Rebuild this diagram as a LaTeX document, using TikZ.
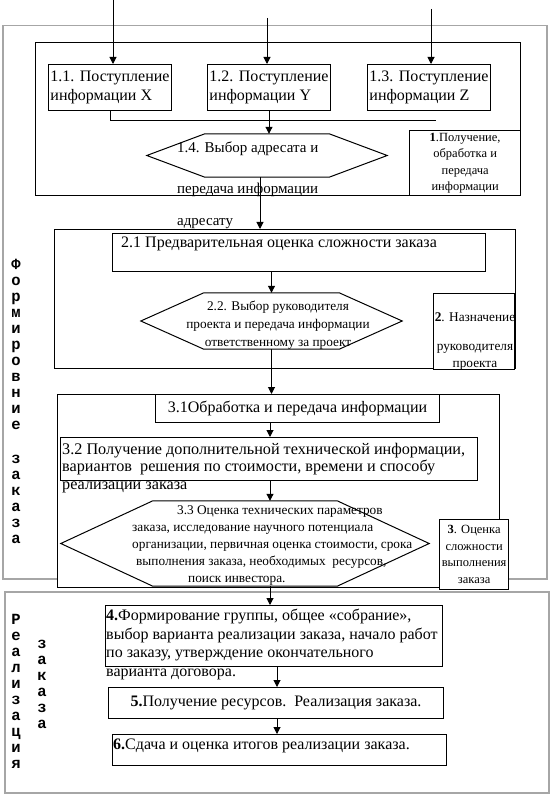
\documentclass[tikz,border=0pt]{standalone}
\usepackage{fontspec}
\setmainfont{Liberation Serif}
\newfontfamily\stackfont{Liberation Mono}
\usetikzlibrary{arrows.meta,positioning}

% hexagon round an (empty) named node: #1 node, #2 length of the tips
\newcommand{\hexa}[2]{\draw[line width=1pt,fill=white] (#1.west) -- ([xshift=#2]#1.north west) -- ([xshift=-#2]#1.north east) -- (#1.east) -- ([xshift=-#2]#1.south east) -- ([xshift=#2]#1.south west) -- cycle;}

\begin{document}
\begin{tikzpicture}[x=1pt,y=-1pt,
  frame/.style={draw=black!35,line width=1.5pt,inner sep=0pt,anchor=north west},
  grp/.style={draw,fill=white,line width=1pt,inner sep=0pt,anchor=north west},
  blk/.style={draw,fill=white,line width=1pt,inner sep=0pt,anchor=north west},
  side/.style={draw,fill=white,line width=1.3pt,inner sep=0pt,anchor=north west},
  sz/.style 2 args={minimum width=#1,minimum height=#2},
  big/.style={inner sep=0pt,font=\fontsize{16}{18.5}\selectfont},
  sml/.style={inner sep=0pt,font=\fontsize{13.3}{17}\selectfont},
  vert/.style={inner sep=0pt,align=center,font=\stackfont\bfseries\fontsize{15.5}{16}\selectfont},
  arr/.style={-{Triangle[length=7pt,width=7pt]},line width=1pt}]

\useasboundingbox (0,0) rectangle (551,794);

% outer frames
\node[frame,sz={544pt}{553pt}] (fr1) at (2,25) {};
\node[frame,sz={544pt}{201pt}] (fr2) at (4,591) {};

% captions on the left
\node[vert,anchor=north] (capA) at (16,259) {Ф\\о\\р\\м\\и\\р\\о\\в\\н\\и\\е\\[18pt]з\\а\\к\\а\\з\\а};
\node[vert,anchor=north] (capB) at (16,614) {Р\\е\\а\\л\\и\\з\\а\\ц\\и\\я};
\node[vert,anchor=north] (capC) at (42,640) {з\\а\\к\\а\\з\\а};

% stage 1
\node[grp,sz={485pt}{153pt}] (g1) at (35,42) {};
\node[blk,sz={123pt}{46pt},align=left,big] (b11) at (48,64) {1.1. Поступление\\информации X};
\node[blk,sz={123pt}{46pt},align=left,big] (b12) at (207,64) {1.2. Поступление\\информации Y};
\node[blk,sz={123pt}{46pt},align=left,big] (b13) at (367,64) {1.3. Поступление\\информации Z};
\coordinate (collEnd) at (436,121);
\draw[line width=1pt] (b11.south) |- (collEnd);
\node[sz={240pt}{43pt}] (h14) at (267,155.5) {};
\hexa{h14}{58pt}
\node[big,align=left,anchor=north west,font=\fontsize{15}{17}\selectfont] (t14) at (177,142) {1.4. Выбор адресата и\\[24pt]передача информации\\[15pt]адресату};
\node[side,sz={111pt}{65pt}] (s1) at (409,130) {};
\node[sml,align=center,font=\fontsize{12.5}{16.5}\selectfont] (s1t) at (s1.center) {\textbf{1}.Получение,\\обработка и\\передача\\информации};

% stage 2
\node[grp,sz={461pt}{139pt}] (g2) at (54,229) {};
\node[blk,sz={373pt}{38pt}] (b21) at (112,233) {};
\node[big,anchor=west] (t21) at (121,244) {2.1 Предварительная оценка сложности заказа};
\node[sz={261pt}{56pt}] (h22) at (271.5,321) {};
\hexa{h22}{63pt}
\node[sml,align=center,font=\fontsize{13.3}{18}\selectfont] (t22) at (278,325) {2.2. Выбор руководителя\\проекта и передача информации\\ответственному за проект};
\node[side,sz={81pt}{76pt}] (s2) at (433,293) {};
\node[sml,align=center,anchor=north] (s2t) at (475,312) {\textbf{2}. Назначение\\[12pt]руководителя\\проекта};

% stage 3
\node[grp,sz={442pt}{193pt}] (g3) at (57,394) {};
\node[blk,sz={284pt}{28pt},big] (b31) at (155,394) {3.1Обработка и передача информации};
\node[blk,sz={417pt}{43pt}] (b32) at (60,437) {};
\node[big,align=left,anchor=north west,font=\fontsize{16.2}{17.5}\selectfont] (t32) at (62,443) {3.2 Получение дополнительной технической информации,\\вариантов\ \ решения по стоимости, времени и способу\\реализации заказа};
\node[sz={368pt}{85pt}] (h33) at (245,543.5) {};
\hexa{h33}{92pt}
\node[sml,align=left,anchor=north west] (t33) at (132,505) {\hspace*{45pt}3.3 Оценка технических параметров\\заказа, исследование научного потенциала\\организации, первичная оценка стоимости, срока\\\hspace*{4pt}выполнения заказа, необходимых\ \ ресурсов,\\\hspace*{56pt}поиск инвестора.};
\node[side,sz={69pt}{70pt}] (s3) at (439,519) {};
\node[sml,align=center,font=\fontsize{12.5}{16.5}\selectfont] (s3t) at (s3.center) {\textbf{3}. Оценка\\сложности\\выполнения\\заказа};

% stages 4-6
\node[blk,sz={337pt}{61pt}] (b4) at (105,605) {};
\node[big,align=left,anchor=north west,font=\fontsize{16}{18.5}\selectfont] (t4) at (106,609) {\textbf{4.}Формирование группы, общее «собрание»,\\выбор варианта реализации заказа, начало работ\\по заказу, утверждение окончательного\\варианта договора.};
\node[blk,sz={335pt}{31pt},big] (b5) at (108,687) {\textbf{5.}Получение ресурсов.\ \ Реализация заказа.};
\node[blk,sz={334pt}{31pt}] (b6) at (112,734) {};
\node[big,anchor=west] (t6) at (113,746) {\textbf{6.}Сдача и оценка итогов реализации заказа.};

% connectors
\coordinate (inX) at (113,0);
\coordinate (inY) at (267,18);
\coordinate (inZ) at (431,9);
\draw[arr] (inX) -- (inX |- b11.north);
\draw[arr] (inY) -- (inY |- b12.north);
\draw[arr] (inZ) -- (inZ |- b13.north);
\draw[arr] (b12.south) -- (b12.south |- h14.north);
\coordinate (h14out) at ([xshift=-7pt]h14.south);
\draw[arr] (h14out) -- (h14out |- g2.north);
\draw[arr] (h22.north |- b21.south) -- (h22.north);
\draw[arr] (h22.south) -- (h22.south |- g3.north);
\coordinate (sp) at (270,0);
\draw[arr] (sp |- b31.south) -- (sp |- b32.north);
\draw[arr] (sp |- b32.south) -- (sp |- h33.north);
\draw[arr] (sp |- h33.south) -- (sp |- b4.north);
\coordinate (sp2) at (277,0);
\draw[arr] (sp2 |- b4.south) -- (sp2 |- b5.north);
\draw[arr] (sp2 |- b5.south) -- (sp2 |- b6.north);
\end{tikzpicture}
\end{document}
